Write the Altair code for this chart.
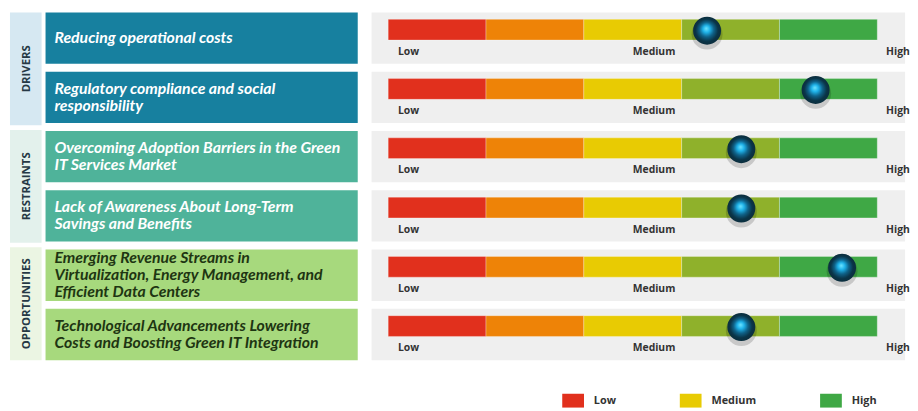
import altair as alt
import pandas as pd

# ---------------- data ----------------
groups = ["DRIVERS", "RESTRAINTS", "OPPORTUNITIES"]
group_strip_colors = ["#d6e8f2", "#e3f1ec", "#ebf5e3"]
group_box_colors = ["#17809f", "#4fb39a", "#a7d97d"]
group_text_colors = ["#ffffff", "#ffffff", "#1e3512"]

factor_group = ["DRIVERS", "DRIVERS", "RESTRAINTS", "RESTRAINTS",
                "OPPORTUNITIES", "OPPORTUNITIES"]
factor_lines = [
    ["Reducing operational  costs"],
    ["Regulatory compliance and social", "responsibility"],
    ["Overcoming Adoption Barriers in the Green", "IT Services Market"],
    ["Lack of Awareness About Long-Term", "Savings and Benefits"],
    ["Emerging Revenue Streams in", "Virtualization, Energy Management, and",
     "Efficient Data Centers"],
    ["Technological Advancements Lowering",
     "Costs and Boosting Green IT Integration"],
]
impact_level = [3.26, 4.37, 3.61, 3.61, 4.64, 3.61]

segment_names = ["Low", "Moderately Low", "Medium", "Moderately High", "High"]
segment_colors = ["#e1301d", "#ee8307", "#e8cb03", "#8fb12b", "#3fa845"]
scale_labels = ["Low", "Medium", "High"]
scale_label_pos = [0.1, 2.5, 5.09]
legend_labels = ["Low", "Medium", "High"]

# ---------------- tables ----------------
factors = [" ".join(l) for l in factor_lines]
g_idx = {g: i for i, g in enumerate(groups)}

strip_df = pd.DataFrame({"group": groups, "fill": group_strip_colors})
box_df = pd.DataFrame({
    "factor": factors,
    "label": ["\n".join(l) for l in factor_lines],
    "nlines": [len(l) for l in factor_lines],
    "fill": [group_box_colors[g_idx[g]] for g in factor_group],
    "tcol": [group_text_colors[g_idx[g]] for g in factor_group],
})
rows_df = pd.DataFrame({"factor": factors, "impact": impact_level})
seg_df = pd.DataFrame([
    {"factor": f, "segment": s, "start": i, "end": i + 1}
    for f in factors for i, s in enumerate(segment_names)
])
lab_df = pd.DataFrame([
    {"factor": f, "lab": l, "pos": p}
    for f in factors for l, p in zip(scale_labels, scale_label_pos)
])

FONT = "Open Sans"
BOX_FONT = "Lato"
LH = 17.5

# ---------------- strip chart ----------------
yA = alt.Y("group:N", sort=groups,
           scale=alt.Scale(paddingInner=0.04, paddingOuter=0), axis=None)
strip = alt.Chart(strip_df).mark_rect().encode(
    x=alt.value(0), x2=alt.value("width"), y=yA,
    fill=alt.Fill("fill:N", scale=None))
strip_text = alt.Chart(strip_df).mark_text(
    angle=270, font=FONT, fontSize=11.5, fontWeight="bold", color="#263845"
).encode(x=alt.value(17), y=yA, text="group:N")
A = alt.layer(strip, strip_text).properties(width=32, height=352)

# ---------------- boxes chart ----------------
yB = alt.Y("factor:N", sort=factors,
           scale=alt.Scale(paddingInner=8 / 60, paddingOuter=0), axis=None)
boxes = alt.Chart(box_df).mark_rect().encode(
    x=alt.value(0), x2=alt.value("width"), y=yB,
    fill=alt.Fill("fill:N", scale=None))


def box_text(n):
    return alt.Chart(box_df).transform_filter(
        alt.datum.nlines == n
    ).mark_text(
        align="left", baseline="middle", lineBreak="\n", lineHeight=LH,
        dy=-(n - 1) * LH / 2,
        font=BOX_FONT, fontSize=16, fontWeight="bold", fontStyle="italic"
    ).encode(x=alt.value(9), y=yB, text="label:N",
             color=alt.Color("tcol:N", scale=None))


B = alt.layer(boxes, box_text(1), box_text(2), box_text(3)).properties(
    width=316, height=352)

# ---------------- gauge chart ----------------
yC = alt.Y("factor:N", sort=factors,
           scale=alt.Scale(paddingInner=8 / 60, paddingOuter=0), axis=None)
xscale = alt.Scale(domain=[-0.17, 5.284], nice=False, zero=False)

bg = alt.Chart(rows_df).mark_rect(color="#efefef").encode(
    x=alt.value(0), x2=alt.value("width"), y=yC)

bars = alt.Chart(seg_df).mark_bar(
    size=21, yOffset=-8.5, stroke="white", strokeWidth=0.6, strokeOpacity=0.5
).encode(
    x=alt.X("start:Q", scale=xscale, axis=None), x2="end:Q", y=yC,
    color=alt.Color(
        "segment:N",
        scale=alt.Scale(domain=segment_names, range=segment_colors),
        legend=alt.Legend(
            values=legend_labels, title=None, orient="none",
            legendX=559, legendY=382, direction="horizontal",
            symbolType="M-1,-0.636L1,-0.636L1,0.636L-1,0.636Z",
            symbolSize=484, symbolStrokeWidth=0, symbolOpacity=1,
            labelFont=FONT, labelFontSize=11, labelFontWeight="bold",
            labelColor="#333333", labelOffset=10, columnPadding=64,
            padding=0)))

labels = alt.Chart(lab_df).mark_text(
    align="left", baseline="middle", yOffset=14, font=FONT, fontSize=10.5,
    fontWeight="bold", color="#333333"
).encode(x=alt.X("pos:Q", scale=xscale, axis=None), y=yC, text="lab:N")

shadow = alt.Chart(rows_df).mark_circle(
    size=980, color="#000000", opacity=0.16, yOffset=-4
).encode(x=alt.X("impact:Q", scale=xscale, axis=None), y=yC)

marker = alt.Chart(rows_df).mark_circle(
    size=800, opacity=1,
    fill={"gradient": "radial", "x1": 0.47, "y1": 0.42, "r1": 0,
          "x2": 0.5, "y2": 0.5, "r2": 0.5,
          "stops": [{"offset": 0, "color": "#6fe4ff"},
                    {"offset": 0.25, "color": "#1fb3ea"},
                    {"offset": 0.52, "color": "#0f6289"},
                    {"offset": 0.8, "color": "#0a3447"},
                    {"offset": 1, "color": "#0b2e3e"}]},
    yOffset=-7.5
).encode(x=alt.X("impact:Q", scale=xscale, axis=None), y=yC)

C = alt.layer(bg, bars, labels, shadow, marker).properties(width=540, height=352)

chart = alt.hconcat(
    alt.hconcat(A, B, spacing=4), C, spacing=14
).properties(
    padding={"left": 2, "top": 2, "right": 0, "bottom": 0},
    background="white"
).configure_view(stroke=None)

chart.save("out.html", embed_options={"renderer": "svg", "actions": False})
